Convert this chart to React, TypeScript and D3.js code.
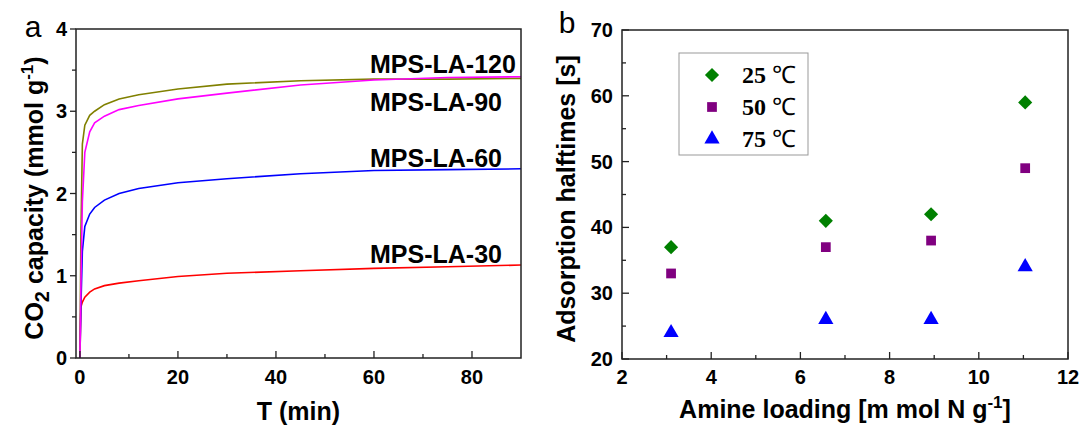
import React, { useEffect, useRef } from "react";
import * as d3 from "d3";

// panel a: CO2 uptake vs time
const timeMin = [0, 0.2, 0.5, 1, 2, 3, 5, 8, 12, 20, 30, 45, 60, 75, 90];
const la120 = [0, 1.5, 2.6, 2.83, 2.95, 3.0, 3.08, 3.15, 3.2, 3.27, 3.33, 3.37, 3.39, 3.39, 3.4];
const la90 = [0, 0.9, 1.9, 2.5, 2.75, 2.86, 2.94, 3.02, 3.07, 3.15, 3.22, 3.32, 3.38, 3.41, 3.42];
const la60 = [0, 0.62, 1.3, 1.6, 1.75, 1.83, 1.92, 2.0, 2.06, 2.13, 2.18, 2.24, 2.28, 2.29, 2.3];
const la30 = [0, 0.62, 0.68, 0.74, 0.8, 0.84, 0.88, 0.91, 0.94, 0.99, 1.03, 1.06, 1.09, 1.11, 1.13];
const seriesNames = ["MPS-LA-120", "MPS-LA-90", "MPS-LA-60", "MPS-LA-30"];
const seriesColors = ["#808000", "#ff00ff", "#0000ff", "#ff0000"];
const labelValues = [3.465, 3.0, 2.32, 1.155];

// panel b: halftimes vs amine loading
const amineLoading = [3.1, 6.57, 8.93, 11.04];
const half25 = [37, 41, 42, 59];
const half50 = [33, 37, 38, 49];
const half75 = [24, 26, 26, 34];
const tempLabels = ["25", "50", "75"];
const tempColors = ["#008000", "#800080", "#0000ff"];

const sans = "'Liberation Sans', Arial, sans-serif";
const serif = "'Liberation Serif', 'Times New Roman', serif";

const App = () => {
  const ref = useRef(null);

  useEffect(() => {
    const svg = d3.select(ref.current);
    svg.selectAll("*").remove();

    //// Panel a
    const ax = { left: 76, right: 521, top: 29, bottom: 358 };
    const xA = d3.scaleLinear().domain([-0.8, 90]).range([ax.left, ax.right]);
    const yA = d3.scaleLinear().domain([0, 4]).range([ax.bottom, ax.top]);

    const gA = svg.append("g");
    const allSeries = [la120, la90, la60, la30];
    const line = d3
      .line()
      .x((d, i) => xA(timeMin[i]))
      .y((d) => yA(d));
    // draw 30 first so 120 / 90 stay on top
    [3, 2, 0, 1].forEach((k) => {
      gA.append("path")
        .datum(allSeries[k])
        .attr("fill", "none")
        .attr("stroke", seriesColors[k])
        .attr("stroke-width", 1.6)
        .attr("d", line);
    });

    seriesNames.forEach((name, k) => {
      gA.append("text")
        .attr("x", 370)
        .attr("y", yA(labelValues[k]))
        .attr("font-family", sans)
        .attr("font-weight", "bold")
        .attr("font-size", 25)
        .text(name);
    });

    // frame
    gA.append("rect")
      .attr("x", ax.left)
      .attr("y", ax.top)
      .attr("width", ax.right - ax.left)
      .attr("height", ax.bottom - ax.top)
      .attr("fill", "none")
      .attr("stroke", "#222")
      .attr("stroke-width", 1.5);

    // x ticks (inward)
    d3.range(0, 90, 10).forEach((v) => {
      const major = v % 20 === 0;
      gA.append("line")
        .attr("x1", xA(v))
        .attr("x2", xA(v))
        .attr("y1", ax.bottom)
        .attr("y2", ax.bottom - (major ? 7 : 4))
        .attr("stroke", "#222")
        .attr("stroke-width", 1.3);
      if (major)
        gA.append("text")
          .attr("x", xA(v))
          .attr("y", 384)
          .attr("text-anchor", "middle")
          .attr("font-family", sans)
          .attr("font-weight", "bold")
          .attr("font-size", 20)
          .text(v);
    });
    // y ticks (outward)
    d3.range(0, 4.01, 0.5).forEach((v) => {
      const major = Math.abs(v - Math.round(v)) < 1e-6;
      gA.append("line")
        .attr("x1", ax.left)
        .attr("x2", ax.left - (major ? 6 : 4))
        .attr("y1", yA(v))
        .attr("y2", yA(v))
        .attr("stroke", "#222")
        .attr("stroke-width", 1.3);
      if (major)
        gA.append("text")
          .attr("x", ax.left - 9)
          .attr("y", yA(v) + 7)
          .attr("text-anchor", "end")
          .attr("font-family", sans)
          .attr("font-weight", "bold")
          .attr("font-size", 20)
          .text(v);
    });

    gA.append("text")
      .attr("x", (ax.left + ax.right) / 2)
      .attr("y", 420)
      .attr("text-anchor", "middle")
      .attr("font-family", sans)
      .attr("font-weight", "bold")
      .attr("font-size", 25)
      .text("T (min)");

    const yLabA = gA
      .append("text")
      .attr("transform", "translate(43,198) rotate(-90)")
      .attr("text-anchor", "middle")
      .attr("font-family", sans)
      .attr("font-weight", "bold")
      .attr("font-size", 25);
    yLabA.append("tspan").text("CO");
    yLabA.append("tspan").attr("dy", 6).attr("font-size", 20).text("2");
    yLabA.append("tspan").attr("dy", -6).text(" capacity (mmol g");
    yLabA.append("tspan").attr("dy", -10).attr("font-size", 17).text("-1");
    yLabA.append("tspan").attr("dy", 10).text(")");

    gA.append("text")
      .attr("x", 33)
      .attr("y", 37)
      .attr("text-anchor", "middle")
      .attr("font-family", sans)
      .attr("font-size", 30)
      .text("a");

    //// Panel b
    const bx = { left: 622, right: 1068, top: 30, bottom: 359 };
    const xB = d3.scaleLinear().domain([2, 12]).range([bx.left, bx.right]);
    const yB = d3.scaleLinear().domain([20, 70]).range([bx.bottom, bx.top]);
    const gB = svg.append("g");

    gB.append("rect")
      .attr("x", bx.left)
      .attr("y", bx.top)
      .attr("width", bx.right - bx.left)
      .attr("height", bx.bottom - bx.top)
      .attr("fill", "none")
      .attr("stroke", "#222")
      .attr("stroke-width", 1.5);

    d3.range(2, 12.01, 1).forEach((v) => {
      const major = v % 2 === 0;
      gB.append("line")
        .attr("x1", xB(v))
        .attr("x2", xB(v))
        .attr("y1", bx.bottom)
        .attr("y2", bx.bottom - (major ? 7 : 4))
        .attr("stroke", "#222")
        .attr("stroke-width", 1.3);
      if (major)
        gB.append("text")
          .attr("x", xB(v))
          .attr("y", 384)
          .attr("text-anchor", "middle")
          .attr("font-family", sans)
          .attr("font-weight", "bold")
          .attr("font-size", 20)
          .text(v);
    });
    d3.range(20, 70.01, 5).forEach((v) => {
      const major = v % 10 === 0;
      gB.append("line")
        .attr("x1", bx.left)
        .attr("x2", bx.left + (major ? 7 : 4))
        .attr("y1", yB(v))
        .attr("y2", yB(v))
        .attr("stroke", "#222")
        .attr("stroke-width", 1.3);
      if (major)
        gB.append("text")
          .attr("x", bx.left - 9)
          .attr("y", yB(v) + 7)
          .attr("text-anchor", "end")
          .attr("font-family", sans)
          .attr("font-weight", "bold")
          .attr("font-size", 20)
          .text(v);
    });

    // diamond = square turned 45 degrees
    const symbols = [d3.symbolSquare, d3.symbolSquare, d3.symbolTriangle];
    const sizes = [100, 95, 100];
    const rotations = [45, 0, 0];
    const halfSeries = [half25, half50, half75];
    halfSeries.forEach((vals, k) => {
      const sym = d3.symbol().type(symbols[k]).size(sizes[k]);
      vals.forEach((v, i) => {
        gB.append("path")
          .attr("d", sym)
          .attr(
            "transform",
            `translate(${xB(amineLoading[i])},${yB(v)}) rotate(${rotations[k]})`
          )
          .attr("fill", tempColors[k]);
      });
    });

    // legend
    gB.append("rect")
      .attr("x", 679)
      .attr("y", 53)
      .attr("width", 129)
      .attr("height", 102)
      .attr("fill", "white")
      .attr("stroke", "#999")
      .attr("stroke-width", 1);
    tempLabels.forEach((t, k) => {
      const cy = 75 + k * 32;
      gB.append("path")
        .attr("d", d3.symbol().type(symbols[k]).size(sizes[k])())
        .attr("transform", `translate(712,${cy}) rotate(${rotations[k]})`)
        .attr("fill", tempColors[k]);
      const txt = gB
        .append("text")
        .attr("x", 742)
        .attr("y", cy + 8)
        .attr("font-family", serif)
        .attr("font-size", 24);
      txt.append("tspan").attr("font-weight", "bold").text(t + " ");
      txt.append("tspan").text("\u2103");
    });

    gB.append("text")
      .attr("x", (bx.left + bx.right) / 2)
      .attr("y", 418)
      .attr("text-anchor", "middle")
      .attr("font-family", sans)
      .attr("font-weight", "bold")
      .attr("font-size", 25)
      .call((t) => {
        t.append("tspan").text("Amine loading [m mol N g");
        t.append("tspan").attr("dy", -10).attr("font-size", 17).text("-1");
        t.append("tspan").attr("dy", 10).text("]");
      });

    gB.append("text")
      .attr("transform", "translate(575,199) rotate(-90)")
      .attr("text-anchor", "middle")
      .attr("font-family", sans)
      .attr("font-weight", "bold")
      .attr("font-size", 25)
      .text("Adsorption halftimes [s]");

    gB.append("text")
      .attr("x", 567)
      .attr("y", 33)
      .attr("text-anchor", "middle")
      .attr("font-family", sans)
      .attr("font-size", 30)
      .text("b");
  }, []);

  return (
    <svg
      ref={ref}
      width={1081}
      height={425}
      style={{ position: "absolute", left: 0, top: 0, background: "white" }}
    ></svg>
  );
};

export default App;
